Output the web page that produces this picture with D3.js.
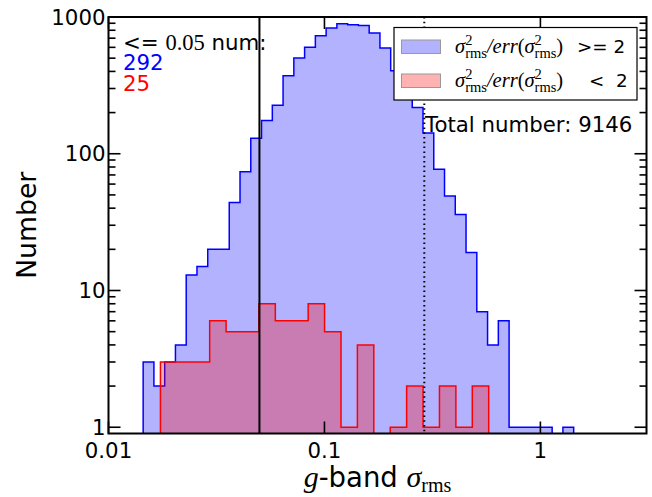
<!DOCTYPE html>
<html>
<head>
<meta charset="utf-8">
<script src="https://cdn.jsdelivr.net/npm/d3@7"></script>
<style>
  html, body { margin: 0; padding: 0; background: #fff; }
  svg { display: block; }
  text { white-space: pre; }
</style>
</head>
<body>
<script>
// ---------------- data ----------------
// histogram of sigma_rms >= 2 : 40 log-spaced bins between these limits
const blueRange = [0.01447, 1.426];
const blueCounts = [3, 2, 3, 4, 13, 15, 20, 20, 44, 74,
                    130, 175, 226, 372, 501, 600, 730, 831, 893, 879,
                    868, 764, 593, 405, 330, 218, 142, 77, 49, 36,
                    19, 7, 4, 6, 1, 1, 1, 1, 0, 1];
// histogram of sigma_rms < 2 : 20 log-spaced bins between these limits
const redRange = [0.0174, 0.5763];
const redCounts = [3, 3, 3, 6, 5, 5, 8, 6, 6, 8,
                   5, 1, 4, 0, 1, 2, 1, 2, 1, 2];
const xTicks = [0.01, 0.1, 1];
const xTickLabels = ["0.01", "0.1", "1"];
const yTicks = [1, 10, 100, 1000];
const yTickLabels = ["1", "10", "100", "1000"];
const xDomain = [0.01, 3.1];
const yDomain = [0.9, 1000];
const cutLine = 0.05;      // solid vertical line
const dottedLine = 0.29;   // dotted vertical line
const countBelowCut = ["292", "25"];
const totalText = "Total number: 9146";
const legendTails = [">= 2", "<  2"];

// ---------------- layout ----------------
const W = 652, H = 497;
const L = 108.5, R = 646.5, T = 17, B = 433.5;
const SANS = "'DejaVu Sans', sans-serif";
const SERIF = "'Liberation Serif', 'DejaVu Serif', serif";
const BLUE = "#0000ff", RED = "#ff0000";

const svg = d3.select("body").append("svg").attr("width", W).attr("height", H);

const x = d3.scaleLog().domain(xDomain).range([L, R]);
const y = d3.scaleLog().domain(yDomain).range([B, T]);

svg.append("defs").append("clipPath").attr("id", "plotclip")
  .append("rect").attr("x", L).attr("y", T).attr("width", R - L).attr("height", B - T);

function edges(range, n) {
  const a = Math.log10(range[0]), b = Math.log10(range[1]);
  return d3.range(n + 1).map(i => Math.pow(10, a + (b - a) * i / n));
}
function histPath(range, counts) {
  const e = edges(range, counts.length);
  const below = B + 20;
  let p = `M${x(e[0])},${below}`;
  counts.forEach((c, i) => {
    const yy = c > 0 ? y(c) : below;
    p += `L${x(e[i])},${yy}L${x(e[i + 1])},${yy}`;
  });
  p += `L${x(e[e.length - 1])},${below}Z`;
  return p;
}

const plot = svg.append("g").attr("clip-path", "url(#plotclip)");
plot.append("path").attr("d", histPath(blueRange, blueCounts))
  .attr("fill", BLUE).attr("fill-opacity", 0.3).attr("stroke", "none");
plot.append("path").attr("d", histPath(blueRange, blueCounts))
  .attr("fill", "none").attr("stroke", BLUE).attr("stroke-width", 1.5);
plot.append("path").attr("d", histPath(redRange, redCounts))
  .attr("fill", RED).attr("fill-opacity", 0.3).attr("stroke", "none");
plot.append("path").attr("d", histPath(redRange, redCounts))
  .attr("fill", "none").attr("stroke", RED).attr("stroke-width", 1.5);

plot.append("line").attr("x1", x(cutLine)).attr("x2", x(cutLine)).attr("y1", T).attr("y2", B)
  .attr("stroke", "#000").attr("stroke-width", 2);
plot.append("line").attr("x1", x(dottedLine)).attr("x2", x(dottedLine)).attr("y1", T).attr("y2", B)
  .attr("stroke", "#000").attr("stroke-width", 2).attr("stroke-dasharray", "1.5,3.3");

// ---------------- ticks ----------------
const tg = svg.append("g").attr("stroke", "#000").attr("stroke-width", 1.6);
const MAJ = 12, MIN = 7;
xTicks.forEach(v => {
  const px = x(v);
  tg.append("line").attr("x1", px).attr("x2", px).attr("y1", B).attr("y2", B - MAJ);
  tg.append("line").attr("x1", px).attr("x2", px).attr("y1", T).attr("y2", T + MAJ);
});
yTicks.forEach(v => {
  const py = y(v);
  tg.append("line").attr("x1", L).attr("x2", L + MAJ).attr("y1", py).attr("y2", py);
  tg.append("line").attr("x1", R).attr("x2", R - MAJ).attr("y1", py).attr("y2", py);
});
const minorY = [];
[1, 10, 100].forEach(d => { for (let k = 2; k <= 9; k++) minorY.push(d * k); });
minorY.forEach(v => {
  const py = y(v);
  tg.append("line").attr("x1", L).attr("x2", L + MIN).attr("y1", py).attr("y2", py);
  tg.append("line").attr("x1", R).attr("x2", R - MIN).attr("y1", py).attr("y2", py);
});

// frame
svg.append("rect").attr("x", L).attr("y", T).attr("width", R - L).attr("height", B - T)
  .attr("fill", "none").attr("stroke", "#000").attr("stroke-width", 2);

// tick labels
xTicks.forEach((v, i) => {
  svg.append("text").attr("x", x(v)).attr("y", B + 24).attr("text-anchor", "middle")
    .attr("font-family", SANS).attr("font-size", 21.3).text(xTickLabels[i]);
});
yTicks.forEach((v, i) => {
  svg.append("text").attr("x", L - 3).attr("y", y(v)).attr("dy", "0.36em").attr("text-anchor", "end")
    .attr("font-family", SANS).attr("font-size", 21.3).text(yTickLabels[i]);
});

// ---------------- mixed text helper ----------------
function richText(parent, x0, y0, segs, anchor) {
  const g = parent.append("g");
  let cx = 0, prevStart = 0, prevEnd = 0;
  segs.forEach(s => {
    const start = s.back ? prevStart : cx;
    const t = g.append("text").attr("x", start).attr("y", s.dy || 0)
      .attr("font-family", s.f).attr("font-size", s.s)
      .attr("font-style", s.it ? "italic" : "normal")
      .attr("fill", s.c || "#000").text(s.t);
    const w = t.node().getComputedTextLength();
    const end = start + w;
    if (s.back) { cx = Math.max(prevEnd, end); }
    else { prevStart = start; prevEnd = end; cx = end; }
  });
  let shift = 0;
  if (anchor === "middle") shift = -cx / 2;
  if (anchor === "end") shift = -cx;
  g.attr("transform", `translate(${x0 + shift},${y0})`);
  return cx;
}

// axis labels
richText(svg, (L + R) / 2, 487, [
  { t: "g", f: SERIF, s: 30, it: 1 },
  { t: "-band ", f: SANS, s: 27.5 },
  { t: "σ", f: SERIF, s: 30, it: 1 },
  { t: "rms", f: SERIF, s: 20, dy: 5 }
], "middle");
svg.append("text").attr("transform", `translate(36,${(T + B) / 2}) rotate(-90)`)
  .attr("text-anchor", "middle").attr("font-family", SANS).attr("font-size", 26.7).text("Number");

// annotations
richText(svg, 123, 50, [
  { t: "<= ", f: SANS, s: 21.3 },
  { t: "0.05", f: SERIF, s: 22.5 },
  { t: " num:", f: SANS, s: 21.3 }
]);
svg.append("text").attr("x", 123).attr("y", 70).attr("font-family", SANS).attr("font-size", 21.3)
  .attr("fill", BLUE).text(countBelowCut[0]);
svg.append("text").attr("x", 123).attr("y", 90.5).attr("font-family", SANS).attr("font-size", 21.3)
  .attr("fill", RED).text(countBelowCut[1]);
svg.append("text").attr("x", 425).attr("y", 131.5).attr("font-family", SANS).attr("font-size", 21.3)
  .text(totalText);

// ---------------- legend ----------------
const lg = svg.append("g");
lg.append("rect").attr("x", 394).attr("y", 27.5).attr("width", 243).attr("height", 72.5)
  .attr("fill", "#fff").attr("stroke", "#000").attr("stroke-width", 1.2);
const legendColors = [BLUE, RED];
const rowY = [53.3, 87.3];
const tailX = [577, 589];
legendColors.forEach((c, i) => {
  lg.append("rect").attr("x", 401.5).attr("y", rowY[i] - 13.3).attr("width", 39).attr("height", 13.5)
    .attr("fill", c).attr("fill-opacity", 0.3).attr("stroke", "#999").attr("stroke-width", 1);
  const M = 20.5, S = 14.5;
  richText(lg, 455, rowY[i], [
    { t: "σ", f: SERIF, s: M, it: 1 },
    { t: "2", f: SERIF, s: S, dy: -8 },
    { t: "rms", f: SERIF, s: S, dy: 5, back: 1 },
    { t: "/", f: SERIF, s: M, it: 1 },
    { t: "err", f: SERIF, s: M, it: 1 },
    { t: "(", f: SERIF, s: M },
    { t: "σ", f: SERIF, s: M, it: 1 },
    { t: "2", f: SERIF, s: S, dy: -8 },
    { t: "rms", f: SERIF, s: S, dy: 5, back: 1 },
    { t: ")", f: SERIF, s: M }
  ]);
  lg.append("text").attr("x", tailX[i]).attr("y", rowY[i]).attr("font-family", SANS)
    .attr("font-size", 18.3).text(legendTails[i]);
});
</script>
</body>
</html>
